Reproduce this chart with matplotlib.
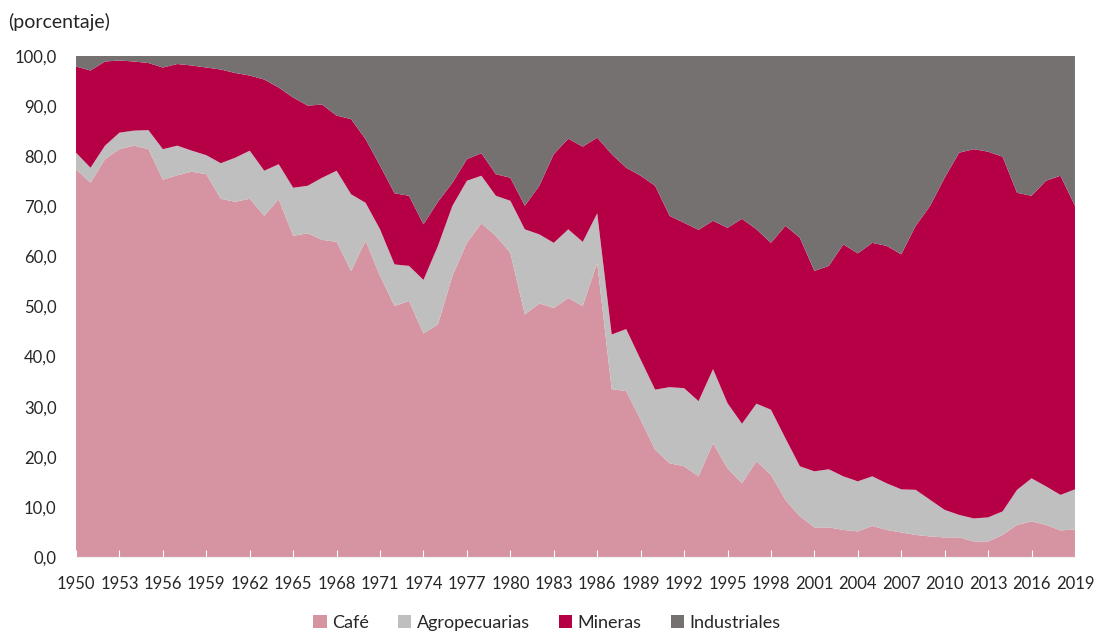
import matplotlib
matplotlib.use("Agg")
import matplotlib.pyplot as plt

plt.rcParams['font.family'] = ['Lato', 'DejaVu Sans']

years = list(range(1950, 2020))

cafe = [77.4, 74.7, 79.4, 81.4, 82.1, 81.4, 75.3, 76.2, 76.9, 76.4,
        71.5, 70.9, 71.5, 68.1, 71.4, 64.1, 64.6, 63.3, 62.9, 57.1,
        63.1, 56.1, 50.1, 51.1, 44.6, 46.4, 56.1, 62.7, 66.6, 64.1,
        60.7, 48.4, 50.6, 49.7, 51.7, 50.1, 58.7, 33.5, 33.1, 27.4,
        21.4, 18.7, 18.1, 16.1, 22.7, 17.7, 14.7, 19.1, 16.4, 11.4,
        8.1, 5.9, 5.9, 5.4, 5.1, 6.2, 5.4, 4.9, 4.4, 4.1,
        3.9, 3.9, 3.1, 3.1, 4.4, 6.4, 7.1, 6.4, 5.3, 5.5]

agropecuarias = [3.3, 3.0, 2.7, 3.3, 3.0, 3.8, 6.1, 5.9, 4.2, 3.8,
                 7.1, 8.8, 9.6, 9.0, 7.0, 9.6, 9.5, 12.4, 14.2, 15.3,
                 7.6, 9.3, 8.3, 7.0, 10.7, 15.7, 14.0, 12.4, 9.5, 8.0,
                 10.4, 17.0, 13.8, 13.0, 13.7, 12.8, 9.9, 10.9, 12.4, 12.0,
                 12.0, 15.2, 15.6, 15.0, 14.8, 13.0, 11.9, 11.5, 13.0, 12.3,
                 10.0, 11.2, 11.6, 10.7, 10.0, 9.9, 9.3, 8.6, 9.0, 7.3,
                 5.5, 4.5, 4.6, 4.8, 4.7, 7.0, 8.6, 7.7, 7.1, 8.0]

mineras = [17.2, 19.4, 16.8, 14.4, 13.8, 13.4, 16.3, 16.3, 17.0, 17.5,
           18.7, 16.9, 15.0, 18.2, 15.3, 18.0, 16.0, 14.6, 11.0, 15.0,
           12.7, 12.7, 14.2, 14.0, 11.1, 8.8, 4.6, 4.3, 4.5, 4.3,
           4.6, 4.7, 9.7, 17.7, 18.1, 19.0, 15.1, 36.0, 32.2, 36.7,
           40.7, 34.2, 33.0, 34.2, 29.6, 35.0, 40.9, 34.8, 33.3, 42.4,
           45.6, 40.0, 40.6, 46.3, 45.5, 46.6, 47.4, 46.9, 52.7, 58.7,
           66.3, 72.3, 73.7, 73.0, 70.8, 59.3, 56.4, 61.0, 63.7, 56.6]

industriales = [2.1, 2.9, 1.1, 0.9, 1.1, 1.4, 2.3, 1.6, 1.9, 2.3,
                2.7, 3.4, 3.9, 4.7, 6.3, 8.3, 9.9, 9.7, 11.9, 12.6,
                16.6, 21.9, 27.4, 27.9, 33.6, 29.1, 25.3, 20.6, 19.4, 23.6,
                24.3, 29.9, 25.9, 19.6, 16.5, 18.1, 16.3, 19.6, 22.3, 23.9,
                25.9, 31.9, 33.3, 34.7, 32.9, 34.3, 32.5, 34.6, 37.3, 33.9,
                36.3, 42.9, 41.9, 37.6, 39.4, 37.3, 37.9, 39.6, 33.9, 29.9,
                24.3, 19.3, 18.6, 19.1, 20.1, 27.3, 27.9, 24.9, 23.9, 29.9]

labels = ['Café', 'Agropecuarias', 'Mineras', 'Industriales']
colors = ['#D693A1', '#BFBFBF', '#B50045', '#767171']
tick_years = list(range(1950, 2020, 3))
y_ticks = list(range(0, 101, 10))

fig = plt.figure(figsize=(10.94, 6.32), dpi=100)
ax = fig.add_axes([0.0695, 0.1187, 0.9131, 0.7927])

ax.stackplot(years, cafe, agropecuarias, mineras, industriales,
             colors=colors, labels=labels, linewidth=0)

ax.set_xlim(1950, 2019)
ax.set_ylim(0, 100)
ax.set_xticks(tick_years)
ax.set_xticklabels([str(y) for y in tick_years])
ax.set_yticks(y_ticks)
ax.set_yticklabels([f"{v:.1f}".replace('.', ',') for v in y_ticks])

for side in ['top', 'right', 'left']:
    ax.spines[side].set_visible(False)
ax.spines['bottom'].set_color('#F2F2F2')
ax.tick_params(axis='x', direction='in', length=5, color='white',
               labelsize=12, pad=14, labelcolor='#262626')
ax.tick_params(axis='y', length=0, labelsize=12, pad=14,
               labelcolor='#262626')

fig.text(0.007, 0.966, '(porcentaje)', fontsize=14, color='#262626',
         ha='left', va='center')

fig.legend(loc='center', bbox_to_anchor=(0.5, 0.014), ncol=4, frameon=False,
           fontsize=13, handlelength=0.75, handleheight=0.75,
           handletextpad=0.3, columnspacing=1.6, labelcolor='#262626')

fig.savefig('out.png', dpi=100, facecolor='white')
